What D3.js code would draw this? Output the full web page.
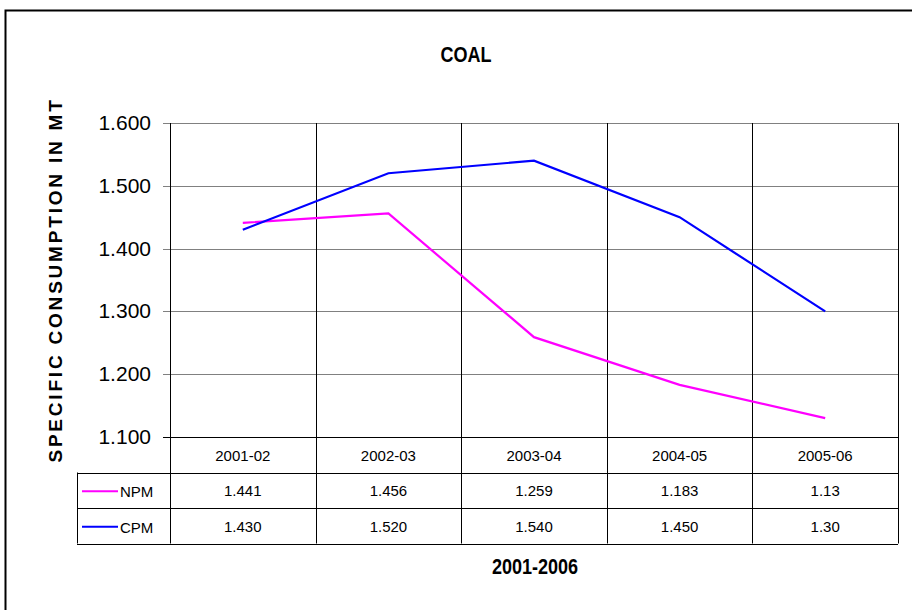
<!DOCTYPE html>
<html>
<head>
  <meta charset="utf-8">
  <title>COAL</title>
  <style>
    body { margin: 0; background: #fff; }
    text { font-family: "Liberation Sans", Arial, sans-serif; fill: #000; }
  </style>
</head>
<body>
<svg width="912" height="610"></svg>
<script src="https://d3js.org/d3.v7.min.js"></script>
<script>
  // data
  var years = ["2001-02", "2002-03", "2003-04", "2004-05", "2005-06"];
  var npm = [1.441, 1.456, 1.259, 1.183, 1.13];
  var cpm = [1.430, 1.520, 1.540, 1.450, 1.30];
  var npmLabels = ["1.441", "1.456", "1.259", "1.183", "1.13"];
  var cpmLabels = ["1.430", "1.520", "1.540", "1.450", "1.30"];
  var yTicks = [1.1, 1.2, 1.3, 1.4, 1.5, 1.6];

  var series = [
    { name: "NPM", values: npm, labels: npmLabels, color: "#ff00ff" },
    { name: "CPM", values: cpm, labels: cpmLabels, color: "#0000ff" }
  ];

  var svg = d3.select("svg");

  // frame round the whole chart
  svg.append("rect")
    .attr("x", 5.5).attr("y", 10.5)
    .attr("width", 920).attr("height", 620)
    .attr("fill", "none").attr("stroke", "#000").attr("stroke-width", 2);

  var plotL = 170, plotR = 898, plotT = 123, plotB = 437;
  var rowH = 35.5;

  var x = d3.scaleBand().domain(years).range([plotL, plotR]);
  var y = d3.scaleLinear().domain([1.1, 1.6]).range([plotB, plotT]);

  // horizontal grid lines + ticks
  svg.append("g").selectAll("line")
    .data(yTicks)
    .join("line")
    .attr("x1", plotL - 7).attr("x2", plotR)
    .attr("y1", function(d) { return Math.round(y(d)) + 0.5; })
    .attr("y2", function(d) { return Math.round(y(d)) + 0.5; })
    .attr("stroke", function(d) { return d === 1.1 ? "#000" : "#808080"; })
    .attr("stroke-width", 1);

  svg.append("g").selectAll("text")
    .data(yTicks)
    .join("text")
    .attr("x", 151)
    .attr("y", function(d) { return y(d) + 7; })
    .attr("text-anchor", "end")
    .style("font-size", "21px")
    .text(function(d) { return d3.format(".3f")(d); });

  // vertical lines: plot + table
  var tableB = plotB + rowH * 3;
  var bounds = years.map(function(d) { return x(d); }).concat([plotR]);
  svg.append("g").selectAll("line")
    .data(bounds)
    .join("line")
    .attr("x1", function(d) { return Math.round(d) + 0.5; })
    .attr("x2", function(d) { return Math.round(d) + 0.5; })
    .attr("y1", plotT).attr("y2", tableB)
    .attr("stroke", "#000");

  // table rows
  var rowLines = [plotB + rowH, plotB + rowH * 2, tableB];
  svg.append("g").selectAll("line")
    .data(rowLines)
    .join("line")
    .attr("x1", 77).attr("x2", plotR)
    .attr("y1", function(d) { return Math.round(d) + 0.5; })
    .attr("y2", function(d) { return Math.round(d) + 0.5; })
    .attr("stroke", "#000");
  svg.append("line")
    .attr("x1", 77.5).attr("x2", 77.5)
    .attr("y1", plotB + rowH).attr("y2", tableB)
    .attr("stroke", "#000");

  // category labels
  svg.append("g").selectAll("text")
    .data(years)
    .join("text")
    .attr("x", function(d) { return x(d) + x.bandwidth() / 2; })
    .attr("y", plotB + rowH / 2 + 6)
    .attr("text-anchor", "middle")
    .style("font-size", "15px")
    .text(function(d) { return d; });

  // rows of values with legend keys
  series.forEach(function(s, i) {
    var cy = plotB + rowH * (i + 1) + rowH / 2;
    svg.append("line")
      .attr("x1", 82).attr("x2", 118)
      .attr("y1", cy + 1).attr("y2", cy + 1)
      .attr("stroke", s.color).attr("stroke-width", 2);
    svg.append("text")
      .attr("x", 120).attr("y", cy + 7)
      .style("font-size", "15px")
      .text(s.name);
    svg.append("g").selectAll("text")
      .data(s.labels)
      .join("text")
      .attr("x", function(d, j) { return x(years[j]) + x.bandwidth() / 2; })
      .attr("y", cy + 6)
      .attr("text-anchor", "middle")
      .style("font-size", "15px")
      .text(function(d) { return d; });
  });

  // lines
  var line = d3.line()
    .x(function(d, j) { return x(years[j]) + x.bandwidth() / 2; })
    .y(function(d) { return y(d); });

  svg.append("g").selectAll("path")
    .data(series)
    .join("path")
    .attr("d", function(s) { return line(s.values); })
    .attr("fill", "none")
    .attr("stroke", function(s) { return s.color; })
    .attr("stroke-width", 2.2);

  // titles (narrow bold, squeezed horizontally)
  svg.append("text")
    .attr("transform", "translate(466,62) scale(0.82,1)")
    .attr("text-anchor", "middle")
    .style("font-size", "22px").style("font-weight", "bold")
    .text("COAL");

  svg.append("text")
    .attr("transform", "translate(535,574) scale(0.82,1)")
    .attr("text-anchor", "middle")
    .style("font-size", "22px").style("font-weight", "bold")
    .text("2001-2006");

  svg.append("text")
    .attr("transform", "translate(62,280) rotate(-90)")
    .attr("text-anchor", "middle")
    .style("font-size", "19px").style("font-weight", "bold")
    .style("letter-spacing", "2.8px")
    .text("SPECIFIC CONSUMPTION IN MT");
</script>
</body>
</html>
